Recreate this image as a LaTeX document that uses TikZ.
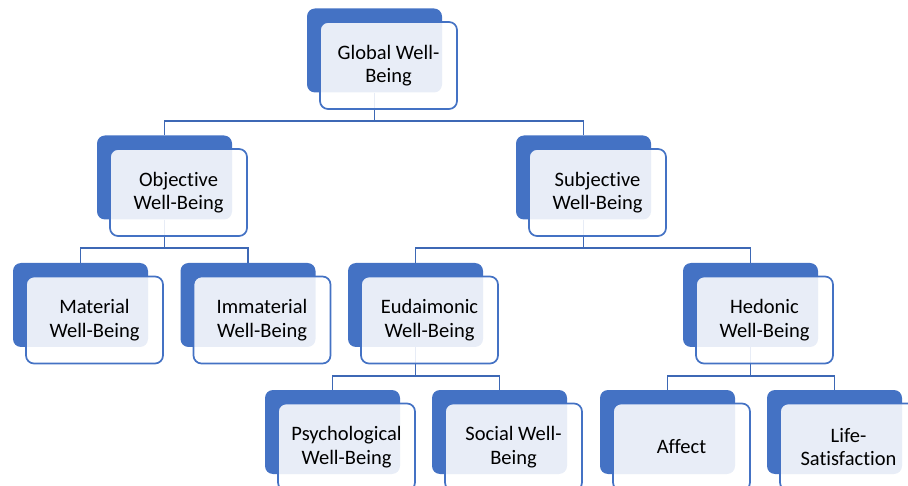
\documentclass[tikz,border=0pt]{standalone}
\usepackage{fontspec}
\setmainfont[Ligatures=NoCommon]{Carlito}
\usetikzlibrary{calc}

\definecolor{boxblue}{HTML}{4472C4}
\definecolor{lineblue}{HTML}{3D68B5}

\begin{document}
\begin{tikzpicture}[x=1pt, y=-1pt,
    back/.style={fill=boxblue, rounded corners=8pt, minimum width=135pt, minimum height=84pt, inner sep=0pt},
    front/.style={draw=boxblue, line width=1.7pt, fill=white, fill opacity=0.88, text opacity=1,
        rounded corners=8pt, minimum width=137pt, minimum height=87pt, inner sep=0pt,
        align=center, font=\fontsize{20.5}{23.5}\selectfont},
    link/.style={draw=lineblue, line width=1.8pt}]
    \def\dx{14} % shift of the front box
    \def\dy{15}
    \def\drop{28.5} % from parent box down to the bar

    \useasboundingbox (0,0) rectangle (908,486);
    \clip (0,0) rectangle (908,486);

    % Solid boxes behind
    \node[back] (glob-b)  at (374.5, 50.5) {};
    \node[back] (obj-b)   at (164.5, 177.5) {};
    \node[back] (subj-b)  at (583.5, 177.5) {};
    \node[back] (mat-b)   at (80.5, 305) {};
    \node[back] (immat-b) at (248, 305) {};
    \node[back] (eud-b)   at (415.5, 305) {};
    \node[back] (hed-b)   at (750.5, 305) {};
    \node[back] (psy-b)   at (332.5, 432) {};
    \node[back] (soc-b)   at (499.5, 432) {};
    \node[back] (aff-b)   at (667.5, 432) {};
    \node[back] (life-b)  at (834.5, 432) {};

    % Tree lines
    \draw[link] (glob-b.south) -- ++(0,\drop) -| (obj-b.north);
    \draw[link] (glob-b.south) -- ++(0,\drop) -| (subj-b.north);
    \draw[link] (obj-b.south) -- ++(0,\drop) -| (mat-b.north);
    \draw[link] (obj-b.south) -- ++(0,\drop) -| (immat-b.north);
    \draw[link] (subj-b.south) -- ++(0,\drop) -| (eud-b.north);
    \draw[link] (subj-b.south) -- ++(0,\drop) -| (hed-b.north);
    \draw[link] (eud-b.south) -- ++(0,\drop) -| (psy-b.north);
    \draw[link] (eud-b.south) -- ++(0,\drop) -| (soc-b.north);
    \draw[link] (hed-b.south) -- ++(0,\drop) -| (aff-b.north);
    \draw[link] (hed-b.south) -- ++(0,\drop) -| (life-b.north);

    % Light boxes in front, with the labels
    \node[front] (glob)  at ($(glob-b)+(\dx,\dy)$)  {Global Well-\\Being};
    \node[front] (obj)   at ($(obj-b)+(\dx,\dy)$)   {Objective\\Well-Being};
    \node[front] (subj)  at ($(subj-b)+(\dx,\dy)$)  {Subjective\\Well-Being};
    \node[front] (mat)   at ($(mat-b)+(\dx,\dy)$)   {Material\\Well-Being};
    \node[front] (immat) at ($(immat-b)+(\dx,\dy)$) {Immaterial\\Well-Being};
    \node[front] (eud)   at ($(eud-b)+(\dx,\dy)$)   {Eudaimonic\\Well-Being};
    \node[front] (hed)   at ($(hed-b)+(\dx,\dy)$)   {Hedonic\\Well-Being};
    \node[front] (psy)   at ($(psy-b)+(\dx,\dy)$)   {Psychological\\Well-Being};
    \node[front] (soc)   at ($(soc-b)+(\dx,\dy)$)   {Social Well-\\Being};
    \node[front] (aff)   at ($(aff-b)+(\dx,\dy)$)   {Affect};
    \node[front] (life)  at ($(life-b)+(\dx,\dy)$)  {Life-\\Satisfaction};
\end{tikzpicture}
\end{document}
